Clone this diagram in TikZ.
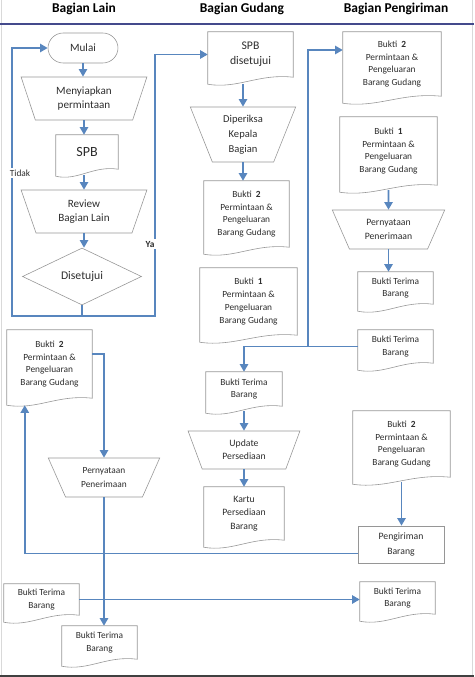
\documentclass[tikz,border=0pt]{standalone}
\usepackage{fontspec}
\setmainfont{Carlito}
\usetikzlibrary{shapes.geometric,arrows.meta,calc}

\definecolor{flowblue}{RGB}{88,134,190}
\definecolor{headline}{RGB}{68,74,140}
\definecolor{boxgray}{RGB}{150,150,150}
\definecolor{inkgray}{RGB}{45,45,45}
\newlength\px
\setlength\px{0.03cm}

\tikzset{
  lane/.style={font=\bfseries\fontsize{11.5}{14}\selectfont, text=black},
  box/.style={draw=boxgray, line width=0.5pt, align=center, inner sep=0pt, text=inkgray},
  trap/.style={box, trapezium, shape border rotate=180, trapezium stretches=true},
  doc/.style={rectangle, inner sep=0pt, align=center, text=inkgray,
    font=\fontsize{8}{11}\selectfont},
  docline/.style={draw=boxgray, line width=0.5pt},
  flow/.style={draw=flowblue, line width=1.6pt, -{Triangle[length=6.5pt,width=7pt]}},
  lbl/.style={fill=white, inner sep=1.5pt, font=\fontsize{8}{10}\selectfont, text=inkgray},
}

\begin{document}
\begin{tikzpicture}[x=0.03cm, y=-0.03cm]
          \useasboundingbox (0,0) rectangle (474,677);
          \draw[gray!30, line width=0.8pt] (1.5,0) -- (1.5,677) (472,0) -- (472,677);
          \fill[black!75] (0,674.5) rectangle (474,677);

          \node[lane] (lain)   at ( 84,9) {Bagian Lain};
          \node[lane] (gudang) at (242,9) {Bagian Gudang};
          \node[lane] (kirim)  at (396,9) {Bagian Pengiriman};
          \draw[headline, line width=1.7pt] (0,24) -- (474,24);

          %% Bagian Lain
          \node[box, rounded corners=13pt, minimum width=70\px, minimum height=30\px,
                font=\fontsize{9.5}{12}\selectfont] (mulai) at (83,48) {Mulai};
          \node[trap, minimum width=126\px, minimum height=43\px, trapezium angle=71,
                font=\fontsize{9.5}{12}\selectfont] (siap) at (84,98.5) {Menyiapkan\\permintaan};
          \node[doc, minimum width=62\px, minimum height=34\px,
                font=\fontsize{12}{14}\selectfont] (spb) at (87,152) {SPB};
          \node[trap, minimum width=126\px, minimum height=43\px, trapezium angle=71,
                font=\fontsize{9.5}{11.6}\selectfont] (review) at (84,211.5) {Review\\Bagian Lain};
          \node[box, diamond, minimum width=119\px, minimum height=57\px,
                font=\fontsize{10}{12}\selectfont] (setuju) at (82,276.5) {Disetujui};
          \node[doc, minimum width=85\px, minimum height=68\px] (buktiduaL) at (49.5,364)
                {Bukti \ \textbf{2}\\Permintaan \&\\Pengeluaran\\Barang Gudang};
          \node[trap, minimum width=112\px, minimum height=39\px, trapezium angle=63,
                font=\fontsize{8}{12}\selectfont] (nyataL) at (104,477.5) {Pernyataan\\Penerimaan};
          \node[doc, minimum width=75\px, minimum height=31\px] (terimaL)  at (41.5,599.5) {Bukti Terima\\Barang};
          \node[doc, minimum width=75\px, minimum height=33\px] (terimaL2) at (99.5,642.5) {Bukti Terima\\Barang};

          %% Bagian Gudang
          \node[doc, minimum width=85\px, minimum height=45\px,
                font=\fontsize{10}{13}\selectfont] (spbok) at (250.5,54.5) {SPB\\disetujui};
          \node[trap, minimum width=106\px, minimum height=55\px, trapezium angle=70,
                font=\fontsize{9}{12.8}\selectfont] (periksa) at (243,134.5) {Diperiksa\\Kepala\\Bagian};
          \node[doc, minimum width=85\px, minimum height=66\px] (buktiduaG) at (246.5,214)
                {Bukti \ \textbf{2}\\Permintaan \&\\Pengeluaran\\Barang Gudang};
          \node[doc, minimum width=97\px, minimum height=67\px] (buktisatuG) at (248.5,301.5)
                {Bukti \ \textbf{1}\\Permintaan \&\\Pengeluaran\\Barang Gudang};
          \node[doc, minimum width=76\px, minimum height=34\px] (terimaG) at (244,389) {Bukti Terima\\Barang};
          \node[trap, minimum width=112\px, minimum height=38\px, trapezium angle=70,
                font=\fontsize{8.3}{11.3}\selectfont] (update) at (244,450) {Update\\Persediaan};
          \node[doc, minimum width=80\px, minimum height=53\px,
                font=\fontsize{8.3}{11.3}\selectfont] (kartu) at (244,513.5) {Kartu\\Persediaan\\Barang};

          %% Bagian Pengiriman
          \node[doc, minimum width=98\px, minimum height=64\px] (buktiduaK) at (392,64)
                {Bukti \ \textbf{2}\\Permintaan \&\\Pengeluaran\\Barang Gudang};
          \node[doc, minimum width=97\px, minimum height=68\px] (buktisatuK) at (388.5,151)
                {Bukti \ \textbf{1}\\Permintaan \&\\Pengeluaran\\Barang Gudang};
          \node[trap, minimum width=113\px, minimum height=39\px, trapezium angle=63,
                font=\fontsize{8.3}{12}\selectfont] (nyataK) at (388.5,229.5) {Pernyataan\\Penerimaan};
          \node[doc, minimum width=75\px, minimum height=32\px] (terimaK)  at (395.5,288)   {Bukti Terima\\Barang};
          \node[doc, minimum width=75\px, minimum height=33\px] (terimaK2) at (395.5,346.5) {Bukti Terima\\Barang};
          \node[doc, minimum width=97\px, minimum height=66\px] (buktiduaK2) at (401.5,444)
                {Bukti \ \textbf{2}\\Permintaan \&\\Pengeluaran\\Barang Gudang};
          \node[box, minimum width=86\px, minimum height=37\px,
                font=\fontsize{8.3}{12}\selectfont] (kirimbrg) at (401,544.5) {Pengiriman\\Barang};
          \node[doc, minimum width=75\px, minimum height=32\px] (terimaK3) at (397.5,598) {Bukti Terima\\Barang};

          \foreach \d in {spb,buktiduaL,terimaL,terimaL2,spbok,buktiduaG,buktisatuG,terimaG,
                          kartu,buktiduaK,buktisatuK,terimaK,terimaK2,buktiduaK2,terimaK3}
            \draw[docline] (\d.south east) -- (\d.north east) -- (\d.north west)
              -- ($(\d.south west)+(0,7)$)
              .. controls ($(\d.south west)!0.35!(\d.south east)+(0,12)$)
                      and ($(\d.south west)!0.6!(\d.south east)+(0,-4)$) .. (\d.south east) -- cycle;

          \coordinate (tidakL) at (12,316);
          \coordinate (yaR)    at (155,316);
          \coordinate (simpul) at (308,346.5);

          \draw[flow] (mulai.south) -- (mulai.south |- siap.north);
          \draw[flow] (siap.south) -- (siap.south |- spb.north);
          \draw[flow] ($(spb.south -| review.north)+(0,6)$) -- (review.north);
          \draw[flow] (review.south) -- (review.south |- setuju.north);
          \draw[flow] (setuju.south) |- (tidakL) |- (mulai.west);
          \draw[flow] (setuju.south) |- (yaR) |- (spbok.west);

          \draw[flow] ($(spbok.south -| periksa.north)+(0,7)$) -- (periksa.north);
          \draw[flow] (periksa.south) -- (periksa.south |- buktiduaG.north);
          \draw[flow] (terimaK2.west) -| (terimaG.north);
          \draw[flow] (simpul) |- ($(buktiduaK.west)+(0,-14)$);
          \draw[flow] ($(terimaG.south)+(0,5)$) -- (update.north);
          \draw[flow] (update.south) -- (update.south |- kartu.north);

          \draw[flow] ($(buktisatuK.south)+(0,5)$) -- (nyataK.north);
          \draw[flow] (nyataK.south) -- (nyataK.south |- terimaK.north);
          \draw[flow] ($(buktiduaK2.south)+(0,5)$) -- (buktiduaK2.south |- kirimbrg.north);
          \draw[flow] ($(kirimbrg.west)+(0,9)$) -| ($(buktiduaL.south west)+(18,7)$);
          \draw[flow] ($(buktiduaL.east)+(0,-10)$) -| (nyataL.north);
          \draw[flow] (nyataL.south) -- (nyataL.south |- terimaL2.north);
          \draw[flow] (terimaL.east) -- (terimaL.east -| terimaK3.west);

          \node[lbl] (tidak) at (20,173) {Tidak};
          \node[lbl, font=\bfseries\fontsize{8}{10}\selectfont] (ya) at (150,244) {Ya};
        \end{tikzpicture}
\end{document}
